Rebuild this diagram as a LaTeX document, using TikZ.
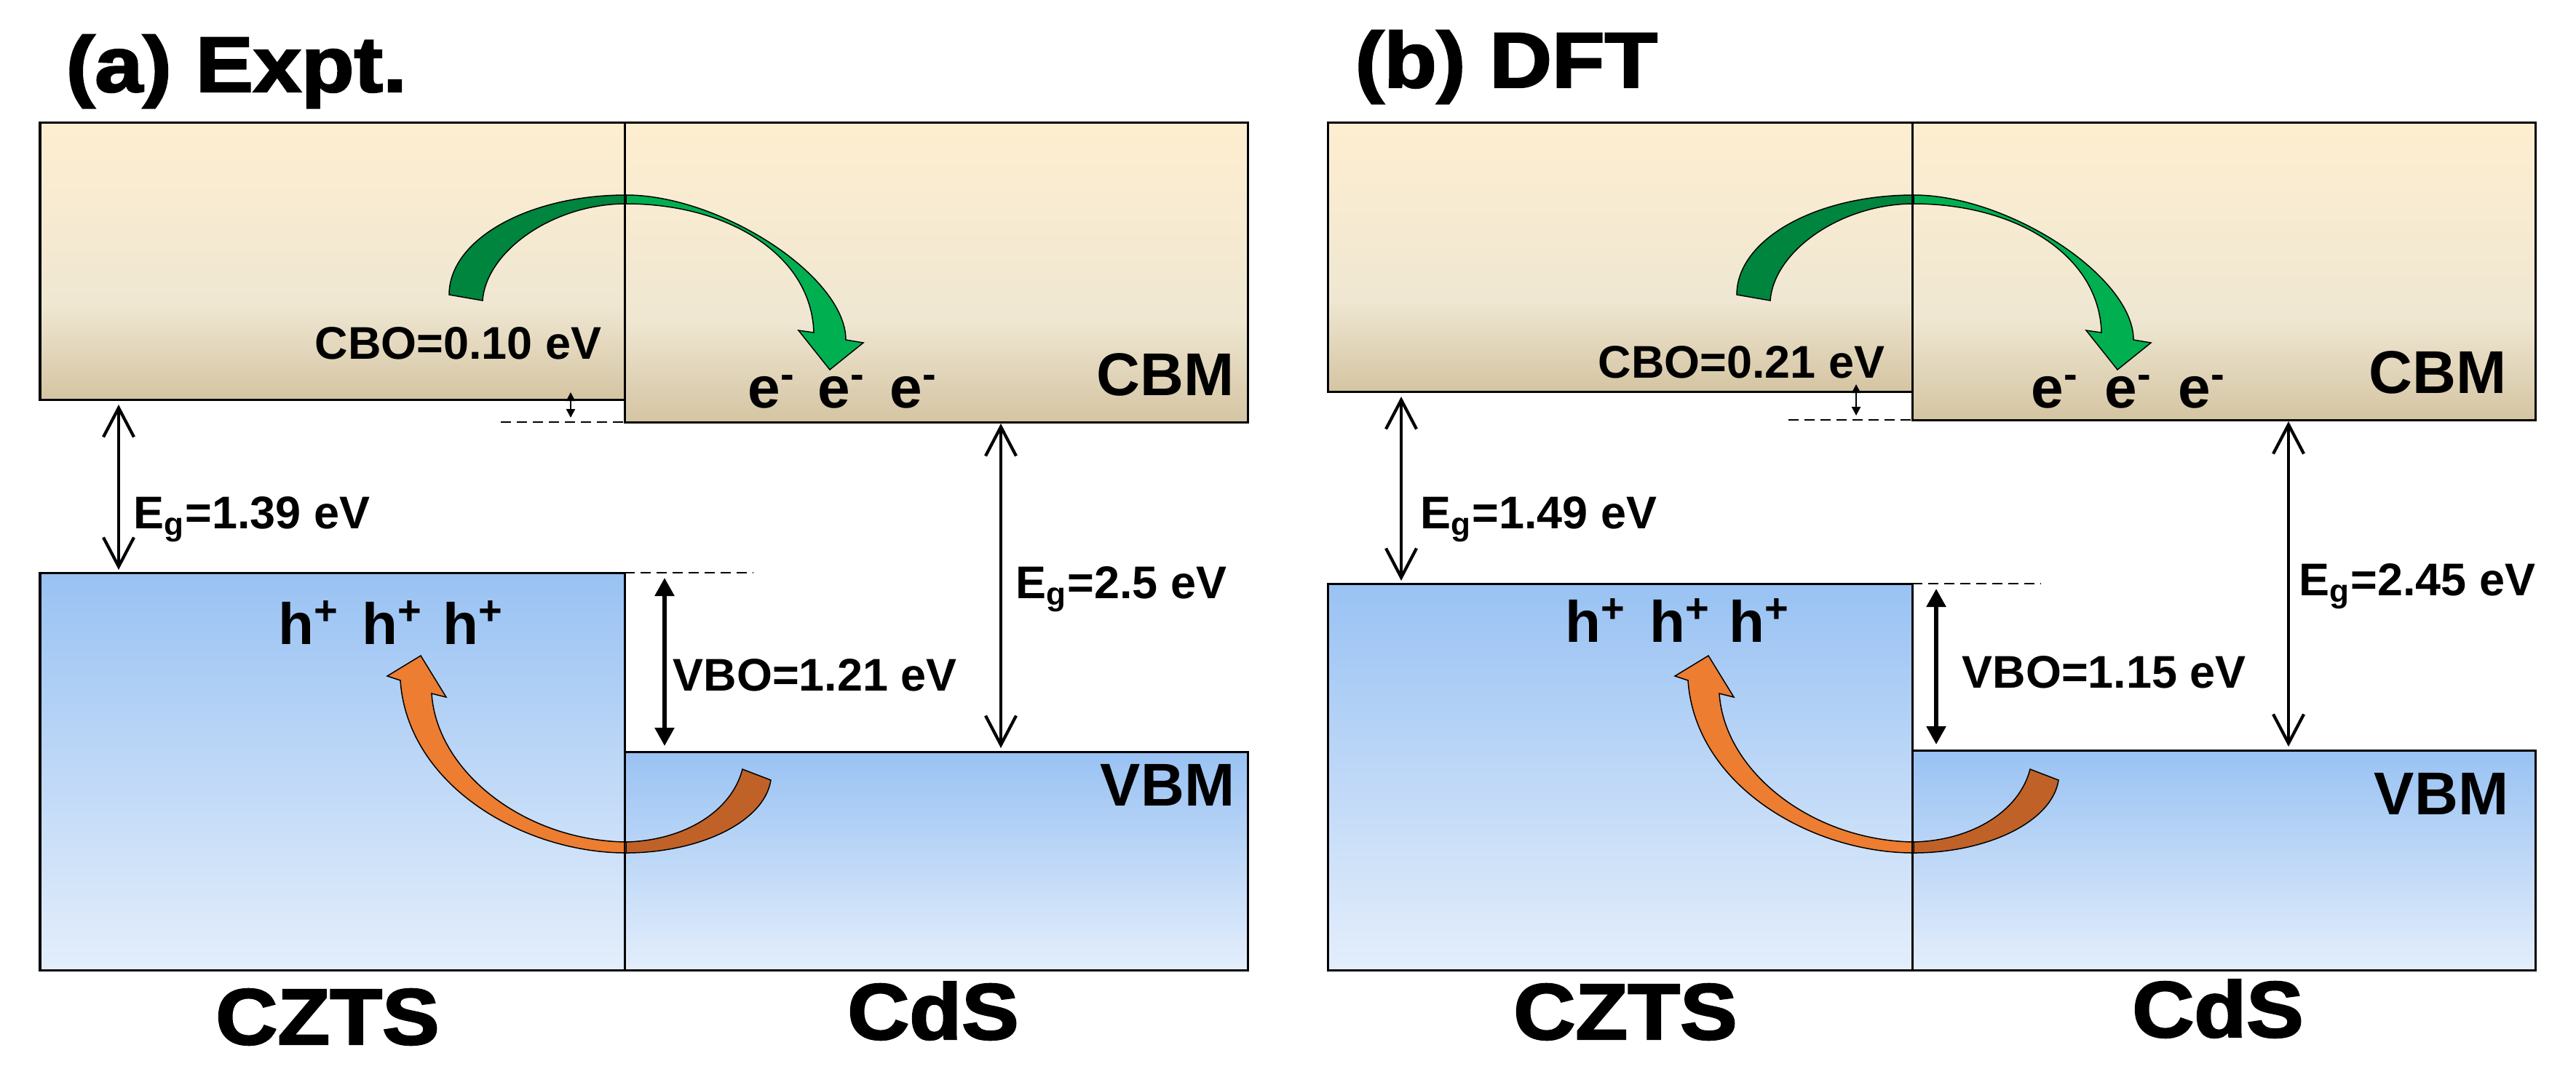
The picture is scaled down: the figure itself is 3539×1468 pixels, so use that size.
\documentclass[tikz,border=0pt]{standalone}
\usepackage{graphicx}
\usepackage{fontspec}
\setmainfont{Liberation Sans}
\newfontfamily\heavyfont{Liberation Sans}[BoldFeatures={FakeBold=2.2}]
\usetikzlibrary{arrows.meta}
\definecolor{gdark}{RGB}{0,133,62}
\definecolor{glight}{RGB}{0,176,80}
\definecolor{olight}{RGB}{237,125,49}
\definecolor{odark}{RGB}{192,98,40}
\definecolor{cbT}{RGB}{254,238,208}
\definecolor{cbM}{RGB}{239,231,210}
\definecolor{cbB}{RGB}{212,196,162}
\definecolor{vbT}{RGB}{153,194,243}
\definecolor{vbB}{RGB}{228,238,251}
\pgfdeclareverticalshading{cbshade}{100bp}{color(0bp)=(cbB); color(25bp)=(cbB); color(42bp)=(cbM); color(75bp)=(cbT); color(100bp)=(cbT)}
\pgfdeclareverticalshading{vbshade}{100bp}{color(0bp)=(vbB); color(25bp)=(vbB); color(75bp)=(vbT); color(100bp)=(vbT)}
\tikzset{
  cbbox/.style={shade, shading=cbshade, draw=black, line width=0.03cm},
  vbbox/.style={shade, shading=vbshade, draw=black, line width=0.03cm},
  divider/.style={draw=black, line width=0.022cm},
  dashline/.style={draw=black, line width=0.025cm, dash pattern=on 0.14cm off 0.08cm},
  egarrow/.style={line width=0.042cm, arrows={Straight Barb[length=4mm,width=4.2mm]-Straight Barb[length=4mm,width=4.2mm]}},
  vboarrow/.style={line width=0.055cm, arrows={Triangle[length=2.5mm,width=2.6mm]-Triangle[length=2.5mm,width=2.6mm]}},
  cboarrow/.style={line width=0.024cm, arrows={Triangle[length=1.2mm,width=1.2mm]-Triangle[length=1.2mm,width=1.2mm]}},
  bandarrow/.style={draw=black, line width=0.015cm},
  lbl/.style={font=\fontsize{17.9}{20}\selectfont\bfseries, inner sep=0pt, anchor=base west},
  car/.style={font=\fontsize{22.8}{26}\selectfont\bfseries, inner sep=0pt, anchor=base west},
  bm/.style={font=\fontsize{23.6}{27}\selectfont\bfseries, inner sep=0pt, anchor=base east},
  mat/.style={font=\heavyfont\fontsize{31}{35}\selectfont\bfseries, inner sep=0pt, anchor=base},
  ttl/.style={font=\heavyfont\fontsize{30.7}{35}\selectfont\bfseries, inner sep=0pt, anchor=base west}
}
% #1 CZTS CB bottom, #2 CdS CB bottom, #3 CZTS VB top, #4 CdS VB top,
% #5 Eg-left x, #6 CBO x, #7 VBO x, #8 prefix
\newcommand{\bandpanel}[8]{%
  \path[cbbox] (55,168) rectangle (858,#1);
  \path[cbbox] (858,168) rectangle (1714,#2);
  \path[vbbox] (55,#3) rectangle (858,1333);
  \path[vbbox] (858,#4) rectangle (1714,1333);
  % electron transfer arrow (green)
  \path[bandarrow, fill=gdark] (617,405) .. controls (617,329) and (726,268) .. (860,268)
     -- (860,280) .. controls (760,280) and (668,345) .. (663,413) -- cycle;
  \path[bandarrow, fill=glight] (860,268) .. controls (990,268) and (1162,380) .. (1162,467)
     -- (1186,471) -- (1140,508) -- (1097,454) -- (1118,457)
     .. controls (1115,350) and (1000,280) .. (860,280) -- cycle;
  % hole transfer arrow (orange)
  \path[bandarrow, fill=odark] (1059,1072) .. controls (1050,1130) and (960,1172) .. (860,1172)
     -- (860,1157) .. controls (940,1155) and (1005,1115) .. (1020,1057) -- cycle;
  \path[bandarrow, fill=olight] (860,1172) .. controls (720,1172) and (560,1080) .. (550,935)
     -- (532,929) -- (578,901) -- (613,958) -- (593,953)
     .. controls (600,1060) and (720,1155) .. (860,1157) -- cycle;
  % interface divider
  \coordinate (#8dt) at (858,168);
  \coordinate (#8dm) at (858,#2);
  \coordinate (#8dv) at (858,#3);
  \coordinate (#8db) at (858,1333);
  \draw[divider] (#8dt) -- (#8dm);
  \draw[divider] (#8dv) -- (#8db);
  % dashed reference levels
  \coordinate (#8cs) at (688,#2);
  \coordinate (#8vs) at (1035,#3);
  \draw[dashline] (#8cs) -- (#8dm);
  \draw[dashline] (#8dv) -- (#8vs);
  % energy arrows
  \coordinate (#8g1t) at (#5,#1);
  \coordinate (#8g1b) at (#5,#3);
  \draw[egarrow, shorten <=0.07cm, shorten >=0.04cm] (#8g1t) -- (#8g1b);
  \coordinate (#8g2t) at (1375,#2);
  \coordinate (#8g2b) at (1375,#4);
  \draw[egarrow, shorten <=0.02cm, shorten >=0.05cm] (#8g2t) -- (#8g2b);
  \coordinate (#8vt) at (#7,#3);
  \coordinate (#8vb) at (#7,#4);
  \draw[vboarrow, shorten <=0.07cm, shorten >=0.08cm] (#8vt) -- (#8vb);
  \coordinate (#8ct) at (#6,#1-10);
  \coordinate (#8cb) at (#6,#2-6);
  \draw[cboarrow] (#8ct) -- (#8cb);
}
\begin{document}
\begin{tikzpicture}[x=0.01cm, y=-0.01cm]
\useasboundingbox (0,0) rectangle (3539,1468);
\fill[white] (0,0) rectangle (3539,1468);

% ---------- panel (a) ----------
\bandpanel{549}{580}{787}{1033}{163}{784}{913}{a}
\node[ttl] (ta) at (90,126) {\scalebox{1.1}[1]{(a) Expt.}};
\node[lbl, anchor=base east] (cboa) at (827,493) {CBO=0.10 eV};
\node[lbl] (ega) at (183,726) {E\textsubscript{g}=1.39 eV};
\node[lbl] (egra) at (1395,822) {E\textsubscript{g}=2.5 eV};
\node[lbl] (vboa) at (924,949) {VBO=1.21 eV};
\node[car] (e1a) at (1027,560) {e\textsuperscript{-}};
\node[car] (e2a) at (1123,560) {e\textsuperscript{-}};
\node[car] (e3a) at (1222,560) {e\textsuperscript{-}};
\node[car] (h1a) at (382,885) {h\textsuperscript{+}};
\node[car] (h2a) at (497,885) {h\textsuperscript{+}};
\node[car] (h3a) at (608,885) {h\textsuperscript{+}};
\node[bm] (cbma) at (1696,543) {CBM};
\node[bm] (vbma) at (1697,1107) {VBM};
\node[mat] (czta) at (450,1435) {\scalebox{1.08}[1]{CZTS}};
\node[mat] (cdsa) at (1282,1428) {\scalebox{1.08}[1]{CdS}};

% ---------- panel (b) ----------
\begin{scope}[xshift=17.68cm]
\bandpanel{538}{577}{802}{1031}{156}{781}{891}{b}
\end{scope}
\node[ttl] (tb) at (1861,120) {\scalebox{1.1}[1]{(b) DFT}};
\node[lbl, anchor=base east] (cbob) at (2590,519) {CBO=0.21 eV};
\node[lbl] (egb) at (1951,726) {E\textsubscript{g}=1.49 eV};
\node[lbl] (egrb) at (3158,818) {E\textsubscript{g}=2.45 eV};
\node[lbl] (vbob) at (2695,945) {VBO=1.15 eV};
\node[car] (e1b) at (2790,560) {e\textsuperscript{-}};
\node[car] (e2b) at (2891,560) {e\textsuperscript{-}};
\node[car] (e3b) at (2992,560) {e\textsuperscript{-}};
\node[car] (h1b) at (2150,882) {h\textsuperscript{+}};
\node[car] (h2b) at (2266,882) {h\textsuperscript{+}};
\node[car] (h3b) at (2375,882) {h\textsuperscript{+}};
\node[bm] (cbmb) at (3444,540) {CBM};
\node[bm] (vbmb) at (3447,1119) {VBM};
\node[mat] (cztb) at (2233,1428) {\scalebox{1.08}[1]{CZTS}};
\node[mat] (cdsb) at (3047,1425) {\scalebox{1.08}[1]{CdS}};
\end{tikzpicture}
\end{document}
